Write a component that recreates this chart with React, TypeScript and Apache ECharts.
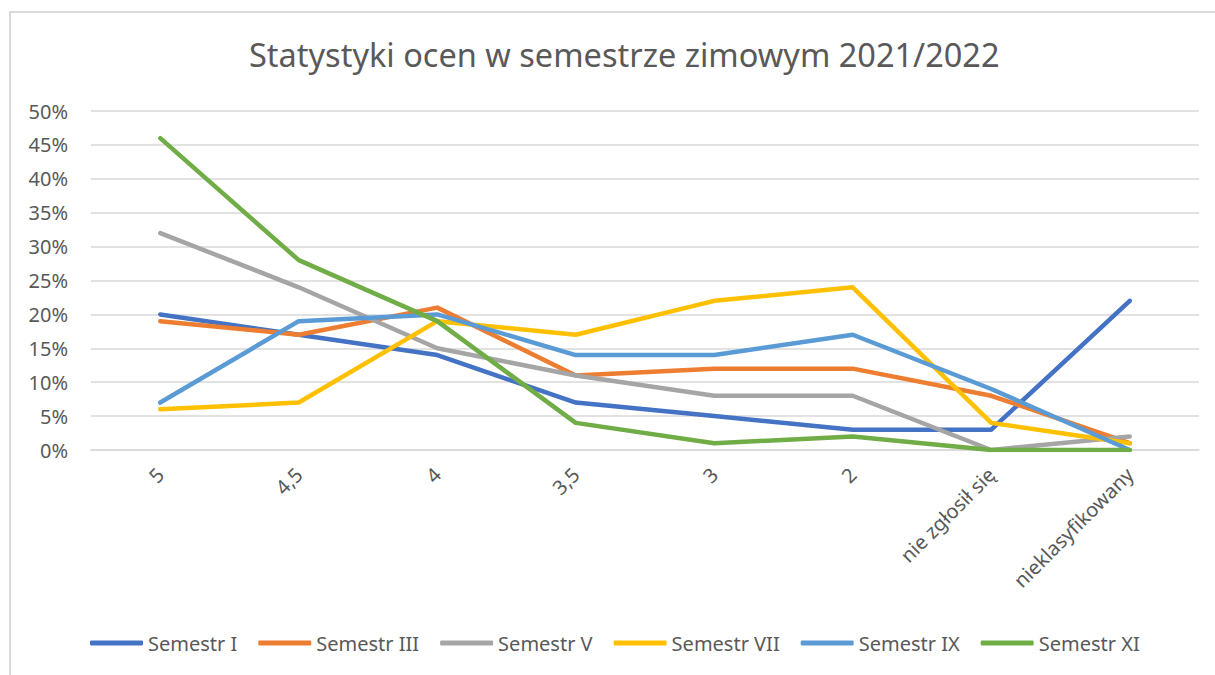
import React, { useEffect, useRef } from "react";
import * as echarts from "echarts";

const categories = ["5", "4,5", "4", "3,5", "3", "2", "nie zgłosił się", "nieklasyfikowany"];
const seriesNames = ["Semestr I", "Semestr III", "Semestr V", "Semestr VII", "Semestr IX", "Semestr XI"];
const semI = [20, 17, 14, 7, 5, 3, 3, 22];
const semIII = [19, 17, 21, 11, 12, 12, 8, 1];
const semV = [32, 24, 15, 11, 8, 8, 0, 2];
const semVII = [6, 7, 19, 17, 22, 24, 4, 1];
const semIX = [7, 19, 20, 14, 14, 17, 9, 0];
const semXI = [46, 28, 19, 4, 1, 2, 0, 0];
const colors = ["#4472C4", "#ED7D31", "#A5A5A5", "#FFC000", "#5B9BD5", "#70AD47"];
const title = "Statystyki ocen w semestrze zimowym 2021/2022";

export default function App() {
  const ref = useRef<HTMLDivElement>(null);
  useEffect(() => {
    if (!ref.current) return;
    const chart = echarts.init(ref.current, null, { renderer: "svg" });
    const data = [semI, semIII, semV, semVII, semIX, semXI];
    const font = "'Noto Sans', sans-serif";
    chart.setOption({
      animation: false,
      backgroundColor: "#ffffff",
      title: {
        text: title,
        left: 244,
        top: 33,
        textStyle: { fontFamily: font, fontSize: 32.5, fontWeight: "normal", color: "#595959" },
      },
      graphic: [
        {
          type: "rect",
          shape: { x: 10, y: 12, width: 1230, height: 700 },
          style: { fill: "none", stroke: "#d9d9d9", lineWidth: 2 },
          silent: true,
        },
      ],
      legend: {
        bottom: 17,
        left: 85,
        itemWidth: 53,
        itemHeight: 5,
        itemGap: 21,
        icon: "roundRect",
        textStyle: { fontFamily: font, fontSize: 20, color: "#595959" },
        data: seriesNames,
      },
      grid: { left: 91, right: 16, top: 111, bottom: 225 },
      xAxis: {
        type: "category",
        data: categories,
        boundaryGap: true,
        axisLine: { lineStyle: { color: "#d9d9d9", width: 1.5 } },
        axisTick: { show: false },
        axisLabel: {
          rotate: 45,
          margin: 21,
          interval: 0,
          fontFamily: font,
          fontSize: 20,
          color: "#595959",
        },
      },
      yAxis: {
        type: "value",
        min: 0,
        max: 50,
        interval: 5,
        axisLine: { show: false },
        axisTick: { show: false },
        splitLine: { lineStyle: { color: "#d9d9d9", width: 1.5 } },
        axisLabel: {
          formatter: "{value}%",
          margin: 23,
          fontFamily: font,
          fontSize: 20,
          color: "#595959",
        },
      },
      series: seriesNames.map((name, i) => ({
        name,
        type: "line",
        data: data[i],
        symbol: "none",
        color: colors[i],
        lineStyle: { width: 4.5, color: colors[i], cap: "round", join: "round" },
        itemStyle: { color: colors[i] },
      })),
    });
    return () => chart.dispose();
  }, []);
  return (
    <div
      ref={ref}
      style={{ position: "fixed", left: 0, top: 0, width: 1215, height: 675 }}
    />
  );
}
